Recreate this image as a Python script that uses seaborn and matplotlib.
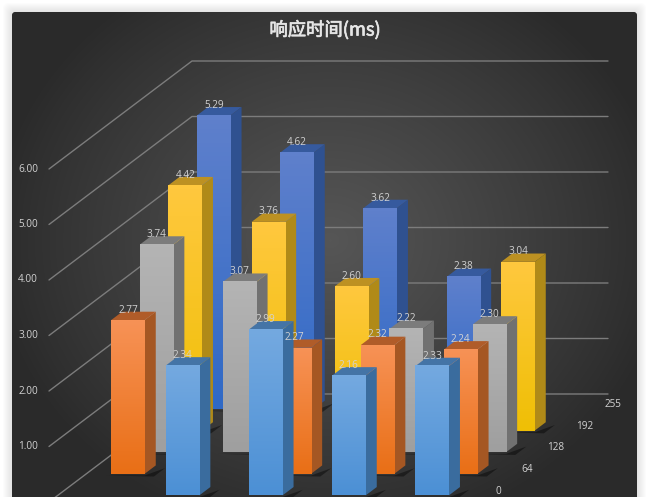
"""3D-style clustered bars of response time, drawn on a flat axes with an oblique projection."""
import numpy as np
import pandas as pd
import matplotlib
matplotlib.use("Agg")
import matplotlib.pyplot as plt
import matplotlib.patheffects as pe
import seaborn as sns
from matplotlib.colors import LinearSegmentedColormap
from matplotlib.patches import FancyBboxPatch

# series run back to front, each has one empty slot
series_names = ["255", "192", "128", "64", "0"]
slots = [0, 1, 2, 3, 4]
values_255 = [5.29, 4.62, 3.62, 2.38, np.nan]
values_192 = [4.42, 3.76, 2.60, np.nan, 3.04]
values_128 = [3.74, 3.07, np.nan, 2.22, 2.30]
values_64 = [2.77, np.nan, 2.27, 2.32, 2.24]
values_0 = [np.nan, 2.34, 2.99, 2.16, 2.33]
value_ticks = [1, 2, 3, 4, 5, 6]
title = "响应时间(ms)"

# front gradient top, front gradient bottom, side, top
palette = {
    "255": ("#5f80cc", "#2f69c6", "#2f5190", "#365a9e"),
    "192": ("#ffc83e", "#efbf05", "#b08a18", "#bd9122"),
    "128": ("#b4b4b4", "#9f9f9f", "#717171", "#7c7c7c"),
    "64": ("#f79256", "#e96f16", "#a55723", "#b05c29"),
    "0": ("#74a9e0", "#4c90d5", "#3a6c9e", "#4474a6"),
}

# pixels per unit, used for both axes so the projection lines up with the frame
PX_SLOT = 83.2
PX_VALUE = 55.5
ORIGIN = (49.0, 502.0)
DEPTH_DX = 28.6 / PX_SLOT
DEPTH_DY = 21.6 / PX_VALUE
BAR_W = 33.5 / PX_SLOT
BAR_D = 0.385
WIDTH, HEIGHT = 650, 497
GRID = "#7c7c7c"
LABEL = "#d2d2d2"
LABEL_FONT = ["Open Sans", "DejaVu Sans"]
LABEL_SIZE = 7.2


def project(slot, depth, value):
    """Map slot / depth / value onto the flat chart axes."""
    return slot + depth * DEPTH_DX, value + depth * DEPTH_DY


def draw_background(fig):
    bg = fig.add_axes([0, 0, 1, 1], zorder=0)
    bg.set_xlim(0, WIDTH)
    bg.set_ylim(HEIGHT, 0)
    bg.axis("off")
    # soft drop shadow
    for grow in range(1, 10):
        bg.add_patch(FancyBboxPatch((12 - grow, 12 - grow), 625 + 2 * grow, 520,
                                    boxstyle="round,pad=0,rounding_size=6",
                                    fc="black", ec="none", alpha=0.012, zorder=1))
    panel = FancyBboxPatch((12, 12), 625, 520, boxstyle="round,pad=0,rounding_size=4",
                           fc="#333333", ec="none", zorder=2)
    bg.add_patch(panel)
    yy, xx = np.mgrid[0:HEIGHT, 0:WIDTH]
    r = np.sqrt(((xx - 330) / 340.0) ** 2 + ((yy - 240) / 300.0) ** 2)
    shade = np.clip(1 - r, 0, 1) ** 0.9
    img = bg.imshow(shade, extent=(0, WIDTH, HEIGHT, 0), aspect="auto",
                    cmap=LinearSegmentedColormap.from_list("panel", ["#2a2a2a", "#565656"]),
                    vmin=0, vmax=1, zorder=3)
    img.set_clip_path(panel)


def draw_frame(ax):
    back = len(series_names)
    for v in value_ticks:
        x0, y0 = project(0, 0, v)
        x1, y1 = project(0, back, v)
        x2, y2 = project(len(slots), back, v)
        ax.plot([x0, x1, x2], [y0, y1, y2], color=GRID, lw=1.0, zorder=1)
        ax.text(x0 - 0.13, y0, f"{v:.2f}", color=LABEL, fontsize=LABEL_SIZE, family=LABEL_FONT,
                ha="right", va="center", zorder=1)
    x0, y0 = project(0, 0, 0)
    x1, y1 = project(0, back, 0)
    x2, y2 = project(len(slots), back, 0)
    ax.plot([x0, x1, x2], [y0, y1, y2], color=GRID, lw=1.0, zorder=1)

    for i, name in enumerate(series_names):
        x, y = project(len(slots) + 0.23, back - i - 0.5, 0)
        ax.text(x, y, name, color=LABEL, fontsize=LABEL_SIZE, family=LABEL_FONT,
                ha="center", va="center", zorder=1)


def draw_series(ax, df, name, depth, zorder):
    """One row of bars: seaborn draws the front faces, sides and tops are added from them."""
    front, bottom, side_c, top_c = palette[name]
    sub = df[df["series"] == name].dropna(subset=["value"])
    d_front = depth + 0.5 - BAR_D / 2
    d_back = depth + 0.5 + BAR_D / 2

    before = len(ax.patches)
    xpos = [project(s + 0.5, d_front, 0)[0] for s in sub["slot"]]
    base = project(0, d_front, 0)[1]
    sns.barplot(x=xpos, y=sub["value"].to_numpy(), native_scale=True, width=BAR_W,
                bottom=base, color=front, saturation=1, errorbar=None,
                linewidth=0, ax=ax)
    shift_x = (d_back - d_front) * DEPTH_DX
    shift_y = (d_back - d_front) * DEPTH_DY
    grad = LinearSegmentedColormap.from_list(f"front_{name}", [bottom, front])

    for bar in ax.patches[before:]:
        bar.set_zorder(zorder + 3)
        x0, x1 = bar.get_x(), bar.get_x() + bar.get_width()
        y0, y1 = bar.get_y(), bar.get_y() + bar.get_height()
        # floor shadow
        ax.fill([x0 - 0.06, x1, x1 + shift_x + 0.11, x1 + 0.11],
                [y0 - 0.03, y0 - 0.03, y0 + shift_y - 0.05, y0 - 0.05],
                color="black", alpha=0.42, lw=0, zorder=zorder)
        ax.fill([x1, x1 + shift_x, x1 + shift_x, x1], [y0, y0 + shift_y, y1 + shift_y, y1],
                color=side_c, lw=0, zorder=zorder + 1)
        ax.fill([x0, x1, x1 + shift_x, x0 + shift_x], [y1, y1, y1 + shift_y, y1 + shift_y],
                color=top_c, lw=0, zorder=zorder + 2)
        ax.imshow(np.linspace(1, 0, 64).reshape(-1, 1), extent=(x0, x1, y0, y1), cmap=grad,
                  aspect="auto", origin="upper", vmin=0, vmax=1, zorder=zorder + 4)
        ax.text((x0 + x1) / 2, y1 + 10 / PX_VALUE, f"{y1 - y0:.2f}", color=LABEL,
                fontsize=LABEL_SIZE, family=LABEL_FONT, ha="center", va="center", zorder=100)


sns.set_theme(style="white")
plt.rcParams["font.family"] = ["Noto Sans CJK SC", "DejaVu Sans"]

df = pd.DataFrame({
    "slot": slots * len(series_names),
    "series": np.repeat(series_names, len(slots)),
    "value": values_255 + values_192 + values_128 + values_64 + values_0,
})

fig = plt.figure(figsize=(WIDTH / 100, HEIGHT / 100), dpi=100, facecolor="white")
draw_background(fig)

ax = fig.add_axes([0, 0, 1, 1], zorder=1)
ax.patch.set_alpha(0)

draw_frame(ax)
for i, name in enumerate(series_names):
    draw_series(ax, df, name, len(series_names) - 1 - i, 10 + i * 10)

# data limits follow from the pixel frame of the reference
ax.set_xlim(-ORIGIN[0] / PX_SLOT, (WIDTH - ORIGIN[0]) / PX_SLOT)
ax.set_ylim((ORIGIN[1] - HEIGHT) / PX_VALUE, ORIGIN[1] / PX_VALUE)
ax.axis("off")

title_text = fig.text(325 / WIDTH, 1 - 30 / HEIGHT, title, color="#e6e6e6", fontsize=13.2,
                      ha="center", va="center", zorder=5)
title_text.set_path_effects([pe.withStroke(linewidth=0.5, foreground="#e6e6e6")])

fig.savefig("out.png", dpi=100)
